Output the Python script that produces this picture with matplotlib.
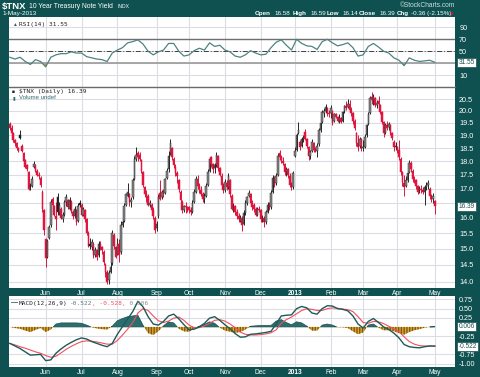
import numpy as np
import pandas as pd
import matplotlib
matplotlib.use('Agg')
import matplotlib.pyplot as plt

plt.rcParams['font.family'] = ['Liberation Sans', 'DejaVu Sans']

FRAME = '#0f5050'
GRID = '#dcdce4'
RED = '#e0143c'
DARK = '#262626'
MONO = 'DejaVu Sans Mono'

# trading days shown (NYSE/CBOE holidays removed)
holidays = ['2012-05-28', '2012-07-04', '2012-09-03', '2012-10-29', '2012-10-30',
            '2012-11-22', '2012-12-25', '2013-01-01', '2013-01-21', '2013-02-18',
            '2013-03-29']
dates = pd.bdate_range('2012-05-02', '2013-05-01')
dates = dates[~dates.isin(pd.to_datetime(holidays))]

# daily candles, one row per month
opens = [
    19.45, 19.30, 19.10, 18.80, 18.70, 18.50, 19.00, 18.60, 18.30, 18.05, 17.85, 17.60, 17.15, 17.10, 17.80, 17.85, 17.65, 17.50, 17.40, 16.90, 16.25,
    15.30, 14.75, 15.35, 15.75, 16.65, 16.40, 16.05, 16.70, 16.20, 16.30, 15.95, 16.10, 16.55, 16.60, 16.30, 16.55, 16.20, 16.05, 16.25, 15.90, 16.50,
    16.45, 16.10, 16.25, 15.95, 15.50, 15.15, 15.05, 15.15, 14.80, 14.95, 14.80, 15.15, 15.05, 14.90, 14.50, 14.30, 14.05, 14.30, 14.55, 15.45, 15.05,
    14.85, 15.15, 14.90, 15.75, 15.90, 16.45, 16.75, 16.80, 16.55, 16.70, 17.35, 18.10, 18.30, 18.25, 18.05, 17.60, 17.05, 16.80, 16.75, 16.45, 16.45, 16.25, 16.00,
    15.65, 16.05, 16.85, 16.70, 16.85, 16.85, 17.40, 17.70, 18.30, 18.50, 18.10, 17.80, 17.55, 17.30, 16.90, 16.55, 16.25, 16.40, 16.35,
    16.35, 16.25, 16.20, 16.55, 16.90, 17.35, 17.10, 16.95, 16.80, 16.65, 16.75, 17.15, 17.65, 18.15, 17.90, 17.75, 17.85, 18.20, 17.75, 17.45, 17.15,
    16.95, 17.20, 17.05, 17.30, 16.75, 16.35, 16.40, 16.20, 16.05, 15.90, 16.00, 15.80, 16.15, 16.50, 16.75, 16.80, 16.50, 16.45, 16.30, 16.10, 16.30,
    16.25, 15.95, 16.00, 15.85, 16.20, 16.45, 16.35, 16.90, 17.40, 17.20, 17.50, 18.30, 18.15, 18.00, 17.90, 17.60, 17.70, 17.45, 17.15, 17.05,
    18.20, 18.45, 19.10, 18.75, 18.60, 18.85, 19.15, 18.85, 18.55, 18.20, 18.40, 18.70, 18.45, 18.40, 18.65, 19.20, 19.55, 19.90, 20.00, 20.10, 19.90,
    19.90, 20.00, 19.60, 19.85, 19.75, 19.60, 19.70, 19.60, 20.00, 20.20, 20.15, 20.30, 20.05, 19.90, 19.60, 19.10, 18.70, 18.60, 18.85,
    18.50, 18.55, 19.00, 19.45, 19.90, 20.60, 20.45, 20.55, 20.25, 20.40, 20.25, 19.95, 19.55, 19.10, 19.40, 19.35, 19.40, 19.10, 18.75, 18.55,
    18.55, 18.45, 18.10, 17.60, 17.20, 17.10, 17.30, 17.60, 17.95, 17.65, 17.35, 17.30, 17.10, 16.95, 17.00, 16.95, 16.90, 17.05, 17.15, 17.00, 16.75, 16.65,
    16.58,
]
highs = [
    19.55, 19.40, 19.15, 18.85, 18.75, 18.55, 19.20, 18.65, 18.35, 18.10, 17.90, 17.65, 17.20, 17.45, 18.00, 17.90, 17.70, 17.60, 17.45, 16.95, 16.30,
    15.35, 15.30, 15.75, 16.65, 16.70, 16.45, 16.55, 16.85, 16.55, 16.35, 16.20, 16.60, 16.80, 16.65, 16.70, 16.60, 16.25, 16.40, 16.30, 16.50, 16.60,
    16.50, 16.35, 16.30, 16.00, 15.55, 15.35, 15.30, 15.20, 15.05, 15.00, 15.25, 15.25, 15.10, 14.95, 14.55, 14.35, 14.35, 14.75, 15.60, 15.50, 15.10,
    15.35, 15.30, 15.90, 16.00, 16.50, 16.85, 17.20, 16.85, 16.70, 17.40, 18.20, 18.55, 18.40, 18.35, 18.10, 17.65, 17.10, 16.95, 16.80, 16.60, 16.50, 16.35, 16.05,
    15.90, 16.80, 17.30, 16.95, 17.00, 17.40, 17.75, 18.40, 18.85, 18.55, 18.15, 17.90, 17.65, 17.35, 16.95, 16.60, 16.45, 16.55, 16.40,
    16.40, 16.35, 16.60, 17.00, 17.45, 17.50, 17.20, 17.10, 16.90, 16.85, 17.20, 17.70, 18.15, 18.20, 17.95, 17.95, 18.35, 18.25, 17.80, 17.55, 17.20,
    17.35, 17.30, 17.55, 17.35, 16.80, 16.50, 16.45, 16.30, 16.15, 16.10, 16.05, 16.25, 16.60, 16.75, 16.95, 16.85, 16.60, 16.50, 16.35, 16.35, 16.40,
    16.30, 16.10, 16.05, 16.25, 16.55, 16.55, 16.95, 17.50, 17.45, 17.55, 18.30, 18.45, 18.25, 18.15, 17.95, 17.80, 17.75, 17.55, 17.25, 17.65,
    18.55, 19.10, 19.55, 18.80, 18.95, 19.00, 19.25, 18.90, 18.60, 18.45, 18.85, 18.75, 18.55, 18.70, 19.30, 19.55, 20.05, 20.10, 20.30, 20.15, 20.05,
    20.25, 20.05, 19.90, 19.90, 19.80, 19.85, 19.75, 20.00, 20.25, 20.40, 20.50, 20.45, 20.15, 19.95, 19.65, 19.15, 19.00, 18.95, 18.90,
    18.80, 19.05, 19.45, 19.95, 20.65, 20.80, 20.70, 20.60, 20.45, 20.65, 20.30, 20.00, 19.60, 19.50, 19.60, 19.55, 19.45, 19.15, 18.80, 18.75,
    18.60, 18.80, 18.15, 17.65, 17.50, 17.45, 17.60, 18.05, 18.00, 17.70, 17.45, 17.35, 17.15, 17.10, 17.15, 17.05, 17.15, 17.25, 17.30, 17.05, 16.80, 16.85,
    16.59,
]
lows = [
    19.20, 19.05, 18.75, 18.60, 18.45, 18.35, 18.85, 18.35, 17.95, 17.75, 17.65, 16.95, 16.95, 17.05, 17.75, 17.60, 17.45, 17.35, 17.05, 16.20, 15.45,
    14.45, 14.70, 15.30, 15.70, 16.35, 16.05, 15.60, 16.10, 16.10, 15.95, 15.85, 16.05, 16.40, 16.30, 16.25, 16.15, 15.95, 16.00, 15.75, 15.85, 16.35,
    16.05, 16.05, 15.85, 15.45, 15.05, 15.00, 14.95, 14.70, 14.75, 14.65, 14.75, 14.95, 14.85, 14.50, 14.15, 13.95, 13.95, 14.25, 14.50, 15.00, 14.70,
    14.80, 14.60, 14.85, 15.70, 15.85, 16.40, 16.70, 16.40, 16.35, 16.65, 17.30, 18.00, 18.00, 18.00, 17.55, 17.05, 16.70, 16.55, 16.40, 16.35, 16.15, 15.95, 15.50,
    15.55, 16.00, 16.60, 16.65, 16.70, 16.80, 17.35, 17.60, 18.25, 18.05, 17.75, 17.45, 17.20, 16.90, 16.55, 16.15, 16.20, 16.15, 16.20,
    16.15, 16.10, 16.15, 16.50, 16.85, 17.00, 16.85, 16.75, 16.55, 16.50, 16.70, 17.10, 17.60, 17.80, 17.55, 17.55, 17.80, 17.65, 17.45, 17.10, 16.85,
    16.90, 16.95, 17.00, 16.70, 16.25, 16.20, 16.10, 15.95, 15.85, 15.85, 15.55, 15.75, 16.10, 16.45, 16.70, 16.40, 16.25, 16.20, 16.05, 16.05, 16.20,
    15.85, 15.85, 15.70, 15.80, 16.15, 16.25, 16.30, 16.85, 17.05, 17.15, 17.45, 18.05, 17.95, 17.85, 17.50, 17.45, 17.40, 17.05, 16.95, 17.00,
    18.15, 18.40, 19.05, 18.45, 18.55, 18.75, 18.80, 18.50, 18.05, 18.10, 18.35, 18.35, 18.35, 18.15, 18.60, 19.15, 19.50, 19.75, 19.90, 19.80, 19.75,
    19.70, 19.40, 19.55, 19.70, 19.55, 19.50, 19.50, 19.55, 19.90, 20.05, 20.10, 20.00, 19.80, 19.45, 19.20, 18.60, 18.40, 18.50, 18.40,
    18.40, 18.50, 18.95, 19.40, 19.85, 20.30, 20.25, 20.15, 20.10, 20.20, 19.85, 19.45, 18.95, 19.05, 19.20, 19.20, 19.00, 18.80, 18.40, 18.45,
    18.30, 18.05, 17.50, 17.10, 16.75, 17.05, 17.25, 17.55, 17.60, 17.25, 17.20, 17.00, 16.80, 16.85, 16.85, 16.80, 16.45, 16.95, 17.00, 16.65, 16.55, 16.50,
    16.14,
]
closes = [
    19.30, 19.10, 18.80, 18.70, 18.50, 18.40, 18.90, 18.40, 18.00, 17.80, 17.70, 17.00, 17.05, 17.35, 17.90, 17.65, 17.50, 17.45, 17.15, 16.30, 15.60,
    14.70, 15.25, 15.70, 16.55, 16.45, 16.10, 15.95, 16.20, 16.45, 16.00, 16.10, 16.55, 16.70, 16.35, 16.60, 16.20, 16.05, 16.30, 15.85, 16.40, 16.45,
    16.10, 16.30, 15.95, 15.50, 15.10, 15.10, 15.20, 14.80, 14.95, 14.75, 15.15, 15.05, 14.95, 14.60, 14.30, 14.00, 14.25, 14.45, 15.50, 15.10, 14.75,
    15.15, 14.80, 15.75, 15.85, 16.40, 16.80, 16.90, 16.55, 16.60, 17.30, 18.10, 18.25, 18.15, 18.10, 17.65, 17.15, 16.80, 16.75, 16.45, 16.50, 16.25, 16.05, 15.60,
    15.80, 16.70, 16.65, 16.90, 16.80, 17.35, 17.65, 18.20, 18.70, 18.15, 17.85, 17.55, 17.45, 17.00, 16.60, 16.25, 16.40, 16.35, 16.30,
    16.25, 16.20, 16.50, 16.90, 17.35, 17.10, 16.95, 16.80, 16.65, 16.75, 17.10, 17.60, 18.10, 17.90, 17.70, 17.85, 18.25, 17.75, 17.50, 17.15, 16.95,
    17.25, 17.05, 17.45, 16.80, 16.30, 16.40, 16.20, 16.05, 15.95, 16.00, 15.75, 16.15, 16.50, 16.70, 16.85, 16.50, 16.35, 16.30, 16.10, 16.30, 16.25,
    15.95, 16.00, 15.85, 16.20, 16.45, 16.35, 16.85, 17.40, 17.15, 17.45, 18.20, 18.15, 18.05, 17.95, 17.60, 17.70, 17.50, 17.15, 17.05, 17.55,
    18.40, 19.00, 19.20, 18.55, 18.85, 18.90, 18.85, 18.60, 18.20, 18.35, 18.75, 18.45, 18.40, 18.60, 19.20, 19.50, 19.95, 20.00, 20.15, 19.90, 19.85,
    20.10, 19.50, 19.85, 19.75, 19.60, 19.70, 19.55, 19.95, 20.20, 20.10, 20.30, 20.05, 19.90, 19.60, 19.30, 18.70, 18.55, 18.85, 18.50,
    18.55, 18.95, 19.40, 19.85, 20.55, 20.45, 20.60, 20.25, 20.35, 20.30, 19.95, 19.55, 19.10, 19.40, 19.30, 19.45, 19.10, 18.90, 18.55, 18.60,
    18.40, 18.15, 17.60, 17.25, 17.05, 17.30, 17.55, 17.95, 17.70, 17.35, 17.25, 17.10, 16.90, 17.00, 16.95, 16.90, 17.05, 17.15, 17.20, 16.75, 16.65, 16.75,
    16.39,
]

# indicators read every third trading day
rsi = [40, 37, 40, 33, 28, 36, 33, 24, 40, 44, 46, 46, 49, 47, 47, 41, 39, 37, 36, 33,
       47, 52, 56, 64, 66, 69, 62, 50, 44, 49, 52, 63, 63, 50, 42, 44, 51, 55, 52, 64,
       58, 60, 52, 49, 42, 40, 44, 51, 47, 44, 45, 56, 65, 69, 60, 52, 70, 63, 59, 58,
       53, 66, 70, 64, 59, 61, 64, 56, 42, 44, 58, 63, 57, 50, 47, 39, 35, 26, 39, 35,
       33, 34, 35, 31.55]
macd = [-0.45, -0.52, -0.59, -0.68, -0.77, -0.76, -0.75, -0.92, -0.90, -0.72, -0.60, -0.50,
        -0.42, -0.35, -0.30, -0.33, -0.40, -0.45, -0.50, -0.54, -0.45, -0.20, 0.01, 0.22,
        0.42, 0.70, 0.55, 0.28, 0.08, 0.05, 0.15, 0.30, 0.35, 0.22, 0.06, -0.08,
        -0.06, 0.00, 0.10, 0.24, 0.28, 0.18, 0.06, -0.05, -0.18, -0.28, -0.27, -0.20,
        -0.19, -0.17, -0.15, -0.12, 0.08, 0.30, 0.32, 0.33, 0.50, 0.56, 0.52, 0.38,
        0.35, 0.50, 0.58, 0.57, 0.50, 0.48, 0.44, 0.30, 0.08, -0.03, 0.15, 0.23,
        0.12, 0.00, -0.07, -0.17, -0.30, -0.48, -0.54, -0.56, -0.57, -0.54, -0.52, -0.522]
signal = [-0.45, -0.49, -0.54, -0.58, -0.63, -0.68, -0.72, -0.78, -0.83, -0.80, -0.71, -0.61,
          -0.53, -0.46, -0.40, -0.38, -0.39, -0.41, -0.44, -0.47, -0.47, -0.37, -0.22, -0.06,
          0.12, 0.38, 0.50, 0.45, 0.30, 0.17, 0.12, 0.16, 0.24, 0.27, 0.18, 0.05,
          -0.02, -0.02, 0.03, 0.10, 0.18, 0.20, 0.16, 0.08, -0.02, -0.14, -0.20, -0.22,
          -0.22, -0.21, -0.19, -0.16, -0.08, 0.10, 0.20, 0.27, 0.36, 0.45, 0.50, 0.48,
          0.45, 0.45, 0.50, 0.52, 0.51, 0.49, 0.47, 0.42, 0.28, 0.12, 0.10, 0.15,
          0.14, 0.09, 0.02, -0.05, -0.13, -0.27, -0.40, -0.47, -0.51, -0.52, -0.52, -0.528]

price_ticks = [14.0, 14.5, 15.0, 15.5, 16.0, 16.5, 17.0, 17.5, 18.0, 18.5, 19.0, 19.5, 20.0, 20.5]
macd_ticks = [0.75, 0.50, 0.25, -0.25, -0.75, -1.00]

n = len(closes)
idx = np.arange(n)
o, h, l, c = map(np.array, (opens, highs, lows, closes))
ix = np.arange(0, n, 3)

# month starts for grid + labels
month_pos = [i for i in range(1, n) if dates[i].month != dates[i - 1].month]
month_lab = ['2013' if dates[i].month == 1 else dates[i].strftime('%b') for i in month_pos]

fig = plt.figure(figsize=(4.8, 3.77), dpi=100, facecolor=FRAME)
W, H = 480, 377


def box(top, bot):
    return [9 / W, 1 - bot / H, 446 / W, (bot - top) / H]


def tag(a, val, txt):
    a.annotate(txt, xy=(1.0, val), xycoords=('axes fraction', 'data'),
               xytext=(2.5, 0), textcoords='offset points', fontsize=4.7, color='#1f4f4f',
               va='center', ha='left', annotation_clip=False,
               bbox=dict(boxstyle='square,pad=0.15', fc='white', ec='#1f4f4f', lw=0.5))


def mono(a, col, txt, color='#222222', y=0.93, size=4.4):
    # monospace label, column counted in characters
    x = 0.022 + col * 3.68 / 446
    a.text(x, y, txt, transform=a.transAxes, fontsize=size, family=MONO,
           color=color, va='top')


ax_rsi = fig.add_axes(box(17, 87))
ax = fig.add_axes(box(87, 288))
ax_m = fig.add_axes(box(296, 367))

for a in (ax_rsi, ax, ax_m):
    a.set_facecolor('white')
    a.set_xlim(-0.5, 260.8)
    for s in a.spines.values():
        s.set_visible(False)
    a.set_xticks(month_pos)
    a.xaxis.grid(True, color=GRID, lw=0.8)
    a.yaxis.grid(True, color=GRID, lw=0.8)
    a.set_axisbelow(True)
    a.yaxis.tick_right()
    a.tick_params(axis='y', length=0, pad=3, labelsize=5.2, labelcolor='white')
    a.tick_params(axis='x', length=0, pad=1.2, labelsize=4.8, labelcolor='white')

# ---- RSI panel
ax_rsi.set_ylim(-9.5, 107)
ax_rsi.set_yticks([10, 30, 50, 70, 90])
ax_rsi.set_yticklabels(['10', '', '50', '70', '90'])
ax_rsi.set_xticklabels([])
r = np.array(rsi, dtype=float)
ax_rsi.axhline(70, color='#6e6e6e', lw=1.0)
ax_rsi.axhline(30, color='#9a9a9a', lw=1.2)
ax_rsi.axhline(50, color='#404040', lw=0.7, ls=(0, (5, 2, 1, 2)))
ax_rsi.fill_between(ix, r, 30, where=r < 30, interpolate=True, color='#d89a20', lw=0)
ax_rsi.fill_between(ix, r, 70, where=r > 70, interpolate=True, color='#5a8a8a', lw=0)
ax_rsi.plot(ix, r, color='#4f8282', lw=0.9)
ax_rsi.text(0.007, 0.935, '\u25b2', transform=ax_rsi.transAxes, fontsize=3.5,
            color='#2f5f5f', va='top')
mono(ax_rsi, 0, 'RSI(14) 31.55')
tag(ax_rsi, rsi[-1], '31.55')

# ---- price panel (log scale)
ax.set_yscale('log')
ax.set_ylim(13.82, 21.02)
ax.yaxis.set_minor_locator(plt.NullLocator())
ax.set_yticks(price_ticks)
ax.set_yticklabels(['' if v == 16.5 else '%.1f' % v for v in price_ticks])
ax.spines['top'].set_visible(True)
ax.spines['top'].set_color('#6a6a6a')
ax.spines['top'].set_linewidth(1.0)
ax.set_xticklabels(month_lab)
for t in ax.get_xticklabels():
    if t.get_text() == '2013':
        t.set_fontweight('bold')

prev = np.r_[o[0], c[:-1]]
up = c >= prev
hollow = c >= o
edge = np.where(up, DARK, RED)
face = np.where(up, np.where(hollow, '#8a8a8a', '#1a1a1a'),
                np.where(hollow, '#f29aac', RED))
ax.vlines(idx, l, h, colors=edge, lw=0.7, zorder=2)
body = np.maximum(np.abs(c - o), 0.02)
ax.bar(idx, body, bottom=np.minimum(o, c), width=0.9, color=face, edgecolor=edge,
       lw=0.35, zorder=3)
ax.text(0.007, 0.988, '\u25a0', transform=ax.transAxes, fontsize=3.5, color='#222222', va='top')
mono(ax, 0, '$TNX (Daily) 16.39', y=0.99, size=4.4)
ax.text(0.007, 0.958, '\u25ae', transform=ax.transAxes, fontsize=3.5, color='#2f6f6f', va='top')
ax.text(0.022, 0.962, 'Volume undef', transform=ax.transAxes, fontsize=4.3,
        color='#2f6f6f', va='top')
tag(ax, closes[-1], '16.39')

# ---- MACD panel
m = np.array(macd)
s = np.array(signal)
hist = m - s
ax_m.set_ylim(-1.094, 0.845)
ax_m.set_yticks(macd_ticks)
ax_m.set_yticklabels(['%.2f' % v for v in macd_ticks])
ax_m.set_xticklabels(month_lab)
for t in ax_m.get_xticklabels():
    if t.get_text() == '2013':
        t.set_fontweight('bold')
ax_m.fill_between(ix, hist, 0, where=hist >= 0, interpolate=True, color='#2b6e6e',
                  edgecolor='#1d4f4f', lw=0.5)
ax_m.fill_between(ix, hist, 0, where=hist < 0, interpolate=True, facecolor='#e0a52a',
                  edgecolor='#7a5a1a', hatch='||||||', lw=0)
ax_m.plot(ix, s, color='#f2505e', lw=0.8)
ax_m.plot(ix, m, color='#1f5a5a', lw=1.0)
ax_m.text(0.005, 0.95, '\u2014', transform=ax_m.transAxes, fontsize=5, color='#1f5a5a',
          va='top', fontweight='bold')
mono(ax_m, 0, 'MACD(12,26,9)')
mono(ax_m, 14, '-0.522', color='#5a7a7a')
mono(ax_m, 20, ', -0.528', color='#f2505e')
mono(ax_m, 28, ', 0.006', color='#8a8a8a')
tag(ax_m, hist[-1], '0.006')
tag(ax_m, macd[-1], '-0.522')


# ---- header
def put(x, y, txt, **kw):
    kw.setdefault('color', 'white')
    kw.setdefault('va', 'center')
    fig.text(x / W, 1 - y / H, txt, **kw)


put(2, 6, '$TNX', fontsize=6.8, fontweight='bold')
put(29, 6.5, '10 Year Treasury Note Yield', fontsize=4.9)
put(117, 7, 'INDX', fontsize=3.6)
put(2, 13.5, '1-May-2013', fontsize=4.6)
put(455, 5.5, '\u00a9StockCharts.com', fontsize=4.8, ha='right', color='#d0e0e0')
hdr = [(255, 'Open', True), (274, '16.58', False), (293, 'High', True), (310, '16.59', False),
       (327, 'Low', True), (342, '16.14', False), (359, 'Close', True), (379, '16.39', False),
       (397, 'Chg', True), (411, '-0.36 (-2.15%)', False)]
for xp, txt, bold in hdr:
    put(xp, 13.5, txt, fontsize=4.5, fontweight='bold' if bold else 'normal')
put(450, 14, '\u25bc', fontsize=3.2, color=RED, family='DejaVu Sans')

fig.savefig('out.png', dpi=100, facecolor=FRAME)
